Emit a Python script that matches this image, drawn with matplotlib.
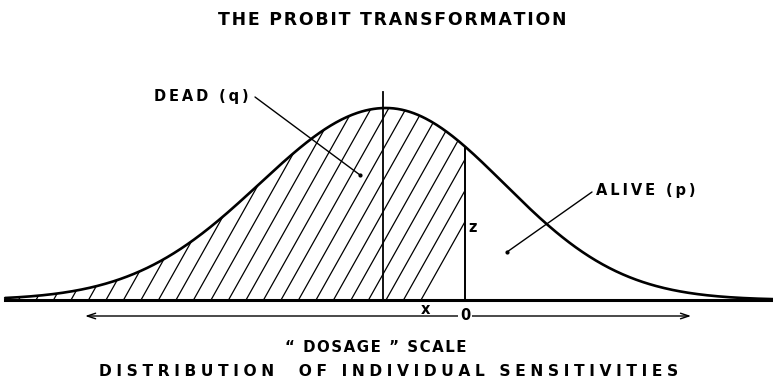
import numpy as np
import matplotlib
matplotlib.use("Agg")
import matplotlib.pyplot as plt
from matplotlib.patches import Polygon

# distribution of tolerances, in units of the (right-hand) s.d.
sd_left = 1.07        # the drawn curve is a little wider on the left
sd_right = 1.0
z_curve = np.linspace(-3.5, 3.3, 600)
peak = 1 / np.sqrt(2 * np.pi)

mean_z = 0.0          # mean tolerance (vertical line)
dose_z = 0.67         # dosage point "0" (hatched up to here)
mean_line_top = 1.083 # height of mean line relative to the peak
arrow_span = [-2.55, 2.585]
base_span = [-3.23, 3.28]

title = "THE PROBIT TRANSFORMATION"
sub1 = "\u201c DOSAGE \u201d SCALE"
sub2 = "DISTRIBUTION  OF INDIVIDUAL SENSITIVITIES"
lab_dead = "DEAD (q)"
lab_alive = "ALIVE (p)"

W, H = 773, 382
px_per_sd = 118
mu_px, base_px, peak_px = 386, 300, 192


def density(z):
    z = np.asarray(z, dtype=float)
    sd = np.where(z < mean_z, sd_left, sd_right)
    return peak * np.exp(-((z - mean_z) / sd) ** 2 / 2)


def spaced(s, sep="\u2009"):
    return sep.join(s)


dens = density(z_curve)
keep = z_curve >= base_span[0]
z_curve, dens = z_curve[keep], dens[keep]

fig = plt.figure(figsize=(W / 100, H / 100), dpi=100)
ax = fig.add_axes([0, 0, 1, 1])
ax.set_xlim(-mu_px / px_per_sd, (W - mu_px) / px_per_sd)
ax.set_ylim(-(H - base_px) / peak_px * peak, base_px / peak_px * peak)
ax.axis("off")

# curve and baseline
ax.plot(z_curve, dens, color="black", lw=1.9, solid_capstyle="round")
ax.plot(base_span, [0, 0], color="black", lw=2.2)

# hatched "dead" area
zd = float(density(dose_z))
m = z_curve <= dose_z
zs = np.concatenate([[z_curve[0]], z_curve[m], [dose_z, dose_z]])
ds = np.concatenate([[0], dens[m], [zd, 0]])
clip = Polygon(np.column_stack([zs, ds]), closed=True, facecolor="none", edgecolor="none")
ax.add_patch(clip)
slope = 1.78 * px_per_sd / (peak_px / peak)
step = 17.5 / px_per_sd
for k in range(-2, 32):
    x0 = mean_z - k * step
    ln, = ax.plot([x0, x0 + 0.5 / slope], [0, 0.5], color="black", lw=0.9)
    ln.set_clip_path(clip)

# vertical lines
ax.plot([mean_z - 3 / px_per_sd] * 2, [0, mean_line_top * peak], color="black", lw=1.3)
ax.plot([dose_z, dose_z], [0, zd], color="black", lw=1.4)

# dosage arrow
ay = -(316 - base_px) / peak_px * peak
ax.annotate("", xy=(arrow_span[0], ay), xytext=(arrow_span[1], ay),
            arrowprops=dict(arrowstyle="<->,head_length=0.6,head_width=0.2",
                            color="black", lw=1.0, shrinkA=0, shrinkB=0))
ax.text(dose_z, ay, "0", ha="center", va="center", fontsize=10.5, fontweight="bold",
        bbox=dict(facecolor="white", edgecolor="none", pad=1.5))
ax.text((mean_z + dose_z) / 2 + 0.0, -(310 - base_px) / peak_px * peak, "x",
        ha="center", va="center", fontsize=10.5, fontweight="bold")
ax.text(dose_z + 0.03, -(228 - base_px) / peak_px * peak, "z",
        ha="left", va="center", fontsize=10.5, fontweight="bold")


# labels with leader lines (figure pixel positions)
def fp(x, y):
    return (x / W, 1 - y / H)


fig.text(*fp(201, 96), spaced(lab_dead), ha="center", va="center",
         fontsize=10.5, fontweight="bold")
ax.annotate("", xy=fp(360, 175), xytext=fp(255, 97), xycoords="figure fraction",
            textcoords="figure fraction",
            arrowprops=dict(arrowstyle="-", color="black", lw=1.0, shrinkA=0, shrinkB=0))
ax.plot(*fp(360, 175), marker="o", ms=2, color="black", transform=fig.transFigure)

fig.text(*fp(646, 191), spaced(lab_alive), ha="center", va="center",
         fontsize=10.5, fontweight="bold")
ax.annotate("", xy=fp(507, 252), xytext=fp(592, 192), xycoords="figure fraction",
            textcoords="figure fraction",
            arrowprops=dict(arrowstyle="-", color="black", lw=1.0, shrinkA=0, shrinkB=0))
ax.plot(*fp(507, 252), marker="o", ms=2, color="black", transform=fig.transFigure)

# titles
fig.text(*fp(392, 20), spaced(title, "\u200a"), ha="center", va="center",
         fontsize=12.4, fontweight="bold")
fig.text(*fp(376, 348), spaced(sub1, "\u200a"), ha="center", va="center",
         fontsize=10.8, fontweight="bold")
fig.text(*fp(389, 372), spaced(sub2, "\u2009\u200a"), ha="center", va="center",
         fontsize=11.2, fontweight="bold")

fig.savefig("out.png", dpi=100, facecolor="white")
